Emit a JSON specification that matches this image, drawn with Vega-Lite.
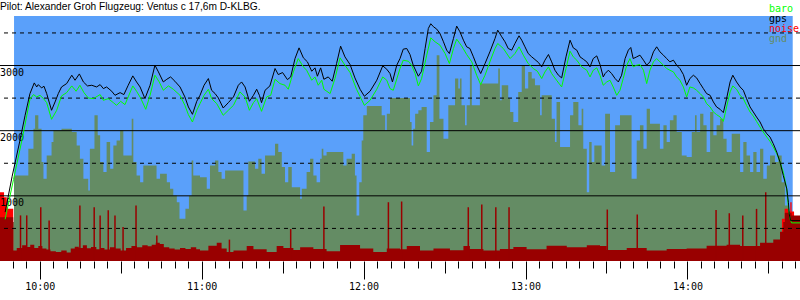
{
"$schema":"https://vega.github.io/schema/vega-lite/v6.json",
"width":800,"height":245,
"autosize":{"type":"none"},
"padding":{"left":0,"top":16,"right":0,"bottom":39},
"background":"white",
"config":{"view":{"stroke":null},"axis":{"domain":false,"title":null,"labelColor":"black","tickColor":"black","labelFont":"DejaVu Sans Mono","labelFontSize":10}},
"title":{"text":"Pilot: Alexander Groh Flugzeug: Ventus c 17,6m D-KLBG.","anchor":"start","frame":"group","font":"Liberation Sans","fontSize":10.2,"fontWeight":"normal","color":"black","offset":5,"dy":13},
"datasets":{
"gps":[{"t":587.2,"a":750},{"t":589.8,"a":1300},{"t":592.7,"a":1851},{"t":594.6,"a":2236},{"t":596.4,"a":2569},{"t":598.0,"a":2733},{"t":598.9,"a":2671},{"t":599.5,"a":2707},{"t":600.7,"a":2656},{"t":601.6,"a":2682},{"t":602.6,"a":2569},{"t":604.4,"a":2313},{"t":605.7,"a":2441},{"t":606.9,"a":2569},{"t":608.1,"a":2671},{"t":610.0,"a":2723},{"t":611.9,"a":2851},{"t":613.1,"a":2774},{"t":614.7,"a":2871},{"t":616.2,"a":2748},{"t":617.7,"a":2687},{"t":619.3,"a":2697},{"t":621.1,"a":2671},{"t":622.4,"a":2707},{"t":623.6,"a":2646},{"t":624.8,"a":2671},{"t":626.7,"a":2605},{"t":627.9,"a":2543},{"t":629.8,"a":2584},{"t":631.2,"a":2554},{"t":632.8,"a":2697},{"t":634.5,"a":2841},{"t":635.9,"a":2748},{"t":637.2,"a":2671},{"t":639.0,"a":2492},{"t":640.9,"a":2697},{"t":642.7,"a":3005},{"t":644.0,"a":2902},{"t":645.8,"a":2748},{"t":647.1,"a":2789},{"t":648.5,"a":2825},{"t":650.1,"a":2759},{"t":652.0,"a":2671},{"t":653.8,"a":2518},{"t":655.1,"a":2364},{"t":656.6,"a":2251},{"t":658.2,"a":2451},
{"t":659.4,"a":2543},{"t":660.9,"a":2697},{"t":662.5,"a":2800},{"t":663.7,"a":2620},{"t":665.0,"a":2569},{"t":666.2,"a":2502},{"t":668.0,"a":2348},{"t":669.9,"a":2430},{"t":671.8,"a":2518},{"t":673.6,"a":2697},{"t":674.8,"a":2748},{"t":676.1,"a":2671},{"t":677.7,"a":2451},{"t":679.2,"a":2543},{"t":680.4,"a":2636},{"t":681.4,"a":2543},{"t":682.2,"a":2430},{"t":683.5,"a":2620},{"t":685.3,"a":2687},{"t":687.2,"a":2954},{"t":688.4,"a":2861},{"t":690.0,"a":2892},{"t":691.8,"a":2784},{"t":693.0,"a":2825},{"t":694.6,"a":3107},{"t":696.1,"a":3271},{"t":697.7,"a":3118},{"t":699.2,"a":3056},{"t":700.8,"a":2912},{"t":702.0,"a":2964},{"t":702.9,"a":2836},{"t":704.1,"a":2964},{"t":705.3,"a":2789},{"t":706.9,"a":2825},{"t":708.4,"a":2759},{"t":710.0,"a":3030},{"t":711.5,"a":3297},{"t":713.1,"a":3133},{"t":715.0,"a":3015},{"t":716.8,"a":2810},{"t":718.7,"a":2636},{"t":720.3,"a":2528},{"t":722.4,"a":2605},{"t":724.9,"a":2774},{"t":727.1,"a":2995},{"t":728.6,"a":2943},{"t":729.8,"a":2877},{"t":730.7,"a":2748},{"t":732.3,"a":3005},
{"t":733.5,"a":3107},{"t":734.7,"a":3251},{"t":736.0,"a":3261},{"t":737.2,"a":3169},{"t":738.4,"a":3005},{"t":740.3,"a":2836},{"t":741.5,"a":2912},{"t":742.8,"a":3261},{"t":744.0,"a":3569},{"t":744.9,"a":3641},{"t":745.9,"a":3595},{"t":747.1,"a":3559},{"t":748.3,"a":3492},{"t":749.6,"a":3364},{"t":750.8,"a":3236},{"t":751.8,"a":3184},{"t":753.3,"a":3415},{"t":754.5,"a":3605},{"t":755.7,"a":3518},{"t":757.0,"a":3389},{"t":758.2,"a":3287},{"t":759.4,"a":3261},{"t":760.7,"a":3133},{"t":761.9,"a":3005},{"t":763.4,"a":2877},{"t":765.0,"a":3030},{"t":766.8,"a":3210},{"t":768.7,"a":3415},{"t":769.7,"a":3543},{"t":771.2,"a":3441},{"t":772.4,"a":3364},{"t":773.6,"a":3261},{"t":774.9,"a":3236},{"t":776.1,"a":3338},{"t":777.6,"a":3456},{"t":778.6,"a":3389},{"t":779.8,"a":3287},{"t":781.0,"a":3184},{"t":782.3,"a":3133},{"t":783.5,"a":3092},{"t":784.8,"a":3046},{"t":786.0,"a":2979},{"t":787.2,"a":3082},{"t":788.5,"a":3169},{"t":789.7,"a":3056},{"t":790.9,"a":2928},{"t":792.2,"a":2851},{"t":793.4,"a":2810},{"t":795.0,"a":3133},{"t":796.5,"a":3389},{"t":797.7,"a":3271},{"t":799.0,"a":3236},{"t":800.2,"a":3133},{"t":801.4,"a":3097},{"t":802.7,"a":3056},{"t":803.9,"a":2979},{"t":805.1,"a":3107},{"t":806.4,"a":3148},{"t":807.6,"a":3015},
{"t":808.8,"a":2825},{"t":809.5,"a":2877},{"t":810.7,"a":2928},{"t":811.9,"a":2877},{"t":813.2,"a":2800},{"t":814.4,"a":2748},{"t":815.6,"a":2851},{"t":816.9,"a":3107},{"t":818.1,"a":3236},{"t":819.0,"a":3277},{"t":819.9,"a":3107},{"t":821.2,"a":3133},{"t":822.4,"a":3159},{"t":823.7,"a":3082},{"t":824.9,"a":3005},{"t":826.1,"a":3056},{"t":827.4,"a":3210},{"t":828.6,"a":3287},{"t":829.8,"a":3210},{"t":831.1,"a":3159},{"t":832.3,"a":3107},{"t":833.5,"a":3056},{"t":834.8,"a":3082},{"t":836.0,"a":3005},{"t":837.2,"a":2954},{"t":838.5,"a":2861},{"t":839.7,"a":2697},{"t":840.9,"a":2800},{"t":842.2,"a":2851},{"t":843.4,"a":2810},{"t":844.7,"a":2723},{"t":845.9,"a":2646},{"t":847.1,"a":2569},{"t":848.4,"a":2543},{"t":849.6,"a":2441},{"t":850.8,"a":2364},{"t":852.1,"a":2328},{"t":853.3,"a":2277},{"t":854.5,"a":2492},{"t":855.8,"a":2748},{"t":856.8,"a":2851},{"t":858.2,"a":2748},{"t":859.5,"a":2671},{"t":860.7,"a":2620},{"t":861.9,"a":2492},{"t":863.2,"a":2364},{"t":864.4,"a":2287},{"t":865.6,"a":2210},{"t":866.9,"a":2133},{"t":868.1,"a":2030},{"t":869.4,"a":1954},{"t":870.6,"a":1902},{"t":871.8,"a":1800},{"t":873.1,"a":1671},{"t":874.3,"a":1518},{"t":875.5,"a":1313},{"t":876.8,"a":1107},{"t":877.4,"a":902},{"t":877.7,"a":723},{"t":878.2,"a":620},{"t":881.7,"a":620}],
"baro":[{"t":587.2,"a":640},{"t":590.3,"a":1250},{"t":593.4,"a":1851},{"t":594.6,"a":2100},{"t":596.4,"a":2482},{"t":597.7,"a":2554},{"t":598.9,"a":2518},{"t":600.1,"a":2543},{"t":601.4,"a":2492},{"t":602.6,"a":2430},{"t":604.4,"a":2174},{"t":606.3,"a":2313},{"t":608.1,"a":2533},{"t":610.0,"a":2584},{"t":611.9,"a":2687},{"t":613.5,"a":2605},{"t":614.9,"a":2697},{"t":616.4,"a":2584},{"t":618.0,"a":2502},{"t":619.9,"a":2492},{"t":622.4,"a":2554},{"t":623.6,"a":2466},{"t":625.4,"a":2492},{"t":627.3,"a":2430},{"t":628.5,"a":2389},{"t":630.0,"a":2451},{"t":631.6,"a":2400},{"t":632.8,"a":2518},{"t":634.5,"a":2687},{"t":635.9,"a":2605},{"t":637.4,"a":2502},{"t":639.3,"a":2328},{"t":640.9,"a":2543},{"t":642.7,"a":2851},{"t":644.3,"a":2748},{"t":645.8,"a":2620},{"t":647.7,"a":2687},{"t":649.5,"a":2636},{"t":652.0,"a":2543},{"t":653.8,"a":2389},{"t":655.1,"a":2246},{"t":656.6,"a":2133},{"t":658.2,"a":2313},
{"t":659.4,"a":2415},{"t":660.9,"a":2543},{"t":662.5,"a":2636},{"t":663.7,"a":2492},{"t":665.6,"a":2415},{"t":668.0,"a":2236},{"t":669.9,"a":2313},{"t":671.8,"a":2389},{"t":674.2,"a":2595},{"t":676.1,"a":2518},{"t":677.7,"a":2313},{"t":679.2,"a":2430},{"t":680.4,"a":2492},{"t":682.2,"a":2297},{"t":684.1,"a":2518},{"t":685.6,"a":2543},{"t":687.2,"a":2789},{"t":689.0,"a":2723},{"t":690.9,"a":2697},{"t":692.1,"a":2636},{"t":694.0,"a":2902},{"t":695.8,"a":3107},{"t":697.7,"a":2979},{"t":698.9,"a":2928},{"t":700.8,"a":2774},{"t":702.0,"a":2825},{"t":703.2,"a":2697},{"t":704.5,"a":2774},{"t":705.3,"a":2636},{"t":707.6,"a":2569},{"t":709.4,"a":2800},{"t":711.3,"a":3118},{"t":713.1,"a":3005},{"t":715.0,"a":2892},{"t":717.4,"a":2636},{"t":720.3,"a":2389},{"t":722.4,"a":2466},{"t":724.9,"a":2636},{"t":727.1,"a":2825},{"t":728.6,"a":2774},{"t":729.8,"a":2646},{"t":731.0,"a":2620},{"t":733.5,"a":2954},
{"t":734.7,"a":3082},{"t":736.6,"a":3066},{"t":737.8,"a":3005},{"t":739.1,"a":2877},{"t":740.3,"a":2687},{"t":741.5,"a":2800},{"t":743.4,"a":3159},{"t":744.9,"a":3425},{"t":746.5,"a":3364},{"t":748.3,"a":3313},{"t":750.2,"a":3184},{"t":751.8,"a":3030},{"t":753.3,"a":3261},{"t":754.5,"a":3405},{"t":756.3,"a":3302},{"t":758.2,"a":3169},{"t":760.1,"a":3056},{"t":761.9,"a":2851},{"t":763.4,"a":2707},{"t":765.0,"a":2851},{"t":766.8,"a":3056},{"t":768.7,"a":3261},{"t":769.7,"a":3338},{"t":771.8,"a":3261},{"t":774.3,"a":3107},{"t":776.1,"a":3184},{"t":777.6,"a":3287},{"t":779.2,"a":3159},{"t":781.0,"a":3030},{"t":782.9,"a":2954},{"t":784.4,"a":2912},{"t":786.0,"a":2800},{"t":787.2,"a":2902},{"t":788.5,"a":2979},{"t":789.7,"a":2877},{"t":791.5,"a":2774},{"t":793.4,"a":2671},{"t":795.0,"a":2954},{"t":796.5,"a":3220},{"t":797.7,"a":3133},{"t":799.0,"a":3082},{"t":800.8,"a":2979},{"t":802.7,"a":2928},{"t":803.9,"a":2825},{"t":805.1,"a":2928},{"t":806.4,"a":2964},{"t":807.6,"a":2851},
{"t":808.8,"a":2697},{"t":810.1,"a":2748},{"t":811.3,"a":2774},{"t":812.5,"a":2671},{"t":813.8,"a":2543},{"t":815.0,"a":2620},{"t":816.2,"a":2800},{"t":817.5,"a":3005},{"t":818.7,"a":3107},{"t":819.9,"a":2979},{"t":821.2,"a":3005},{"t":822.4,"a":3015},{"t":823.7,"a":2928},{"t":824.9,"a":2723},{"t":826.1,"a":2928},{"t":827.4,"a":3056},{"t":828.6,"a":3107},{"t":829.8,"a":3056},{"t":831.1,"a":3005},{"t":832.3,"a":2954},{"t":833.5,"a":2928},{"t":834.8,"a":2902},{"t":836.0,"a":2825},{"t":837.2,"a":2774},{"t":838.5,"a":2671},{"t":839.7,"a":2518},{"t":840.9,"a":2671},{"t":842.2,"a":2656},{"t":843.4,"a":2620},{"t":844.7,"a":2569},{"t":845.9,"a":2518},{"t":847.1,"a":2415},{"t":848.4,"a":2364},{"t":849.6,"a":2287},{"t":850.8,"a":2246},{"t":852.1,"a":2210},{"t":853.3,"a":2143},{"t":854.5,"a":2364},{"t":855.8,"a":2595},{"t":856.8,"a":2687},{"t":858.2,"a":2636},{"t":859.5,"a":2543},{"t":860.7,"a":2492},{"t":861.9,"a":2389},{"t":863.2,"a":2287},{"t":864.4,"a":2225},{"t":865.6,"a":2143},{"t":866.9,"a":2056},{"t":868.1,"a":1979},{"t":869.4,"a":1902},{"t":870.6,"a":1836},{"t":871.8,"a":1749},{"t":873.1,"a":1646},{"t":874.3,"a":1518},{"t":875.5,"a":1364},{"t":876.8,"a":1107},{"t":877.4,"a":825},{"t":878.0,"a":646},{"t":878.6,"a":585},{"t":881.7,"a":585}],
"gnd":[{"t":585.3,"a":600},{"t":590.5,"a":1313},{"t":595.8,"a":1723},{"t":597.7,"a":2030},{"t":598.3,"a":2236},{"t":599.5,"a":2030},{"t":600.7,"a":1518},{"t":601.4,"a":1261},{"t":602.6,"a":1620},{"t":604.4,"a":1825},{"t":605.1,"a":2005},{"t":608.1,"a":2030},{"t":611.9,"a":1979},{"t":613.7,"a":1774},{"t":614.9,"a":1569},{"t":616.2,"a":1261},{"t":618.0,"a":1082},{"t":618.6,"a":1723},{"t":620.3,"a":2236},{"t":621.5,"a":1928},{"t":622.4,"a":1518},{"t":623.6,"a":1364},{"t":624.8,"a":1825},{"t":626.1,"a":1415},{"t":627.3,"a":1774},{"t":628.5,"a":1851},{"t":629.8,"a":2005},{"t":631.0,"a":1620},{"t":634.1,"a":2184},{"t":634.7,"a":1518},{"t":635.9,"a":1313},{"t":637.2,"a":1210},{"t":638.4,"a":1466},{"t":643.3,"a":1261},{"t":644.6,"a":1338},{"t":647.1,"a":1210},{"t":648.3,"a":1107},{"t":649.5,"a":1005},{"t":650.8,"a":900},{"t":651.8,"a":650},{"t":654.0,"a":800},{"t":655.3,"a":1000},{"t":656.3,"a":1543},{"t":656.9,"a":1313},
{"t":659.4,"a":1287},{"t":661.9,"a":1107},{"t":663.1,"a":1466},{"t":665.0,"a":1543},{"t":666.2,"a":1364},{"t":667.4,"a":1261},{"t":668.7,"a":1389},{"t":675.5,"a":774},{"t":676.7,"a":1005},{"t":677.3,"a":1528},{"t":679.8,"a":1415},{"t":681.0,"a":1569},{"t":682.2,"a":1338},{"t":683.5,"a":1620},{"t":687.2,"a":1800},{"t":688.4,"a":1671},{"t":689.7,"a":1441},{"t":690.9,"a":1210},{"t":692.1,"a":1441},{"t":693.4,"a":1133},{"t":696.5,"a":954},{"t":697.1,"a":1107},{"t":698.9,"a":1364},{"t":700.2,"a":1569},{"t":701.4,"a":1313},{"t":702.6,"a":1210},{"t":703.9,"a":1569},{"t":704.5,"a":1723},{"t":705.1,"a":1620},{"t":706.3,"a":1671},{"t":712.5,"a":1466},{"t":713.7,"a":1569},{"t":715.6,"a":1646},{"t":716.8,"a":1313},{"t":717.4,"a":697},{"t":718.4,"a":1210},{"t":719.3,"a":1851},{"t":719.9,"a":2236},{"t":721.2,"a":2379},{"t":726.7,"a":2236},{"t":728.0,"a":2005},{"t":728.6,"a":2261},{"t":729.8,"a":2502},
{"t":737.2,"a":2133},{"t":737.8,"a":1774},{"t":738.4,"a":2030},{"t":739.1,"a":2261},{"t":740.3,"a":2313},{"t":741.5,"a":2364},{"t":743.4,"a":1671},{"t":744.6,"a":2133},{"t":745.9,"a":2543},{"t":747.1,"a":3159},{"t":748.1,"a":2184},{"t":749.6,"a":1877},{"t":751.4,"a":2389},{"t":753.9,"a":2800},{"t":755.1,"a":2646},{"t":755.7,"a":2800},{"t":756.3,"a":2389},{"t":757.6,"a":2082},{"t":758.2,"a":2389},{"t":759.4,"a":3005},{"t":760.1,"a":2389},{"t":763.1,"a":2723},{"t":769.9,"a":2954},{"t":770.5,"a":2466},{"t":771.2,"a":2697},{"t":773.6,"a":2492},{"t":774.3,"a":2287},{"t":775.5,"a":2133},{"t":777.3,"a":2595},{"t":778.6,"a":3005},{"t":779.8,"a":2646},{"t":781.0,"a":2902},{"t":782.3,"a":2800},{"t":783.5,"a":2697},{"t":785.4,"a":2236},{"t":786.0,"a":2543},{"t":789.7,"a":2184},{"t":790.9,"a":1825},{"t":791.5,"a":2441},{"t":792.8,"a":1749},{"t":796.5,"a":2236},{"t":797.7,"a":2441},{"t":799.6,"a":2082},{"t":800.8,"a":2338},{"t":801.4,"a":1723},{"t":802.7,"a":1056},{"t":803.6,"a":1825},{"t":804.5,"a":1518},{"t":805.5,"a":1774},
{"t":808.2,"a":1466},{"t":809.5,"a":2261},{"t":811.3,"a":1364},{"t":813.2,"a":2082},{"t":815.0,"a":2236},{"t":819.3,"a":1261},{"t":821.2,"a":1851},{"t":822.4,"a":2082},{"t":823.7,"a":1723},{"t":824.9,"a":2338},{"t":826.1,"a":2107},{"t":829.8,"a":1723},{"t":831.1,"a":2082},{"t":832.3,"a":1825},{"t":833.5,"a":2159},{"t":834.8,"a":2236},{"t":836.0,"a":1979},{"t":837.9,"a":1620},{"t":839.7,"a":1595},{"t":841.6,"a":1979},{"t":842.8,"a":2236},{"t":843.4,"a":1979},{"t":844.7,"a":2261},{"t":845.9,"a":2082},{"t":847.1,"a":1671},{"t":848.4,"a":2287},{"t":849.6,"a":1928},{"t":850.8,"a":2082},{"t":852.1,"a":2184},{"t":853.3,"a":1877},{"t":854.5,"a":1671},{"t":856.4,"a":1954},{"t":859.5,"a":1364},{"t":860.7,"a":1825},{"t":861.9,"a":1620},{"t":863.2,"a":1364},{"t":864.4,"a":1671},{"t":865.6,"a":1364},{"t":866.9,"a":1723},{"t":868.1,"a":1261},{"t":869.4,"a":1466},{"t":870.6,"a":1620},{"t":872.4,"a":1518},{"t":873.7,"a":1620},{"t":874.9,"a":1210},{"t":876.1,"a":850},{"t":877.4,"a":700},{"t":879.2,"a":656},{"t":881.7,"a":656}],
"noise":[{"t":585.3,"a":670},{"t":590.2,"a":160},{"t":591.5,"a":200},{"t":593.5,"a":240},{"t":595.0,"a":215},{"t":596.5,"a":250},{"t":598.0,"a":200},{"t":599.5,"a":230},{"t":601.0,"a":190},{"t":602.5,"a":175},{"t":604.0,"a":150},{"t":606.0,"a":140},{"t":608.0,"a":160},{"t":610.0,"a":130},{"t":611.5,"a":190},{"t":613.0,"a":220},{"t":614.5,"a":200},{"t":616.0,"a":240},{"t":617.5,"a":195},{"t":619.0,"a":215},{"t":621.0,"a":180},{"t":622.5,"a":200},{"t":624.0,"a":175},{"t":626.0,"a":210},{"t":628.0,"a":190},{"t":630.0,"a":160},{"t":632.0,"a":200},{"t":634.0,"a":230},{"t":636.0,"a":210},{"t":638.0,"a":240},{"t":640.0,"a":225},{"t":641.5,"a":250},{"t":643.0,"a":280},{"t":644.5,"a":260},{"t":646.0,"a":210},{"t":648.0,"a":190},{"t":650.0,"a":175},{"t":652.0,"a":200},{"t":654.0,"a":185},{"t":656.0,"a":210},{"t":658.0,"a":180},{"t":659.4,"a":160},{"t":662.5,"a":235},{"t":665.6,"a":280},{"t":667.4,"a":190},{"t":669.3,"a":140},{"t":671.8,"a":160},{"t":676.7,"a":230},{"t":679.2,"a":180},{"t":684.1,"a":140},{"t":687.8,"a":230},{"t":690.3,"a":200},{"t":694.0,"a":170},{"t":696.5,"a":210},{"t":701.4,"a":185},{"t":706.3,"a":150},{"t":711.3,"a":245},{"t":718.7,"a":190},{"t":723.6,"a":140},{"t":728.6,"a":190},{"t":733.5,"a":180},{"t":736.0,"a":230},{"t":740.9,"a":160},{"t":745.9,"a":190},{"t":752.0,"a":165},{"t":757.0,"a":230},{"t":759.4,"a":185},{"t":764.4,"a":160},{"t":770.5,"a":185},{"t":775.5,"a":215},{"t":780.4,"a":180},{"t":787.8,"a":235},{"t":795.3,"a":210},{"t":802.7,"a":240},{"t":807.6,"a":230},{"t":810.1,"a":170},{"t":817.5,"a":200},{"t":824.9,"a":160},{"t":832.3,"a":185},{"t":839.7,"a":190},{"t":847.1,"a":235},{"t":854.5,"a":250},{"t":859.5,"a":230},{"t":866.9,"a":280},{"t":871.8,"a":330},{"t":874.3,"a":450},{"t":875.5,"a":600},{"t":876.1,"a":740},{"t":878.6,"a":700},{"t":881.7,"a":700}],
"loud":[{"t":585.3,"a":1055},{"t":586.8,"a":980},{"t":587.8,"a":800},{"t":590.2,"a":0},{"t":875.0,"a":650},{"t":876.0,"a":800},{"t":877.3,"a":760},{"t":878.1,"a":900},{"t":878.6,"a":760},{"t":879.5,"a":0},{"t":881.7,"a":0}],
"spikes":[{"t":592.9,"a":700},{"t":595.2,"a":700},{"t":600.4,"a":825},{"t":603.5,"a":620},{"t":614.9,"a":850},{"t":620.2,"a":825},{"t":622.4,"a":700},{"t":625.4,"a":780},{"t":627.9,"a":700},{"t":630.9,"a":520},{"t":635.7,"a":850},{"t":643.4,"a":390},{"t":670.3,"a":328},{"t":693.0,"a":490},{"t":705.3,"a":836},{"t":729.2,"a":902},{"t":734.1,"a":913},{"t":758.8,"a":825},{"t":763.8,"a":866},{"t":769.0,"a":825},{"t":773.9,"a":825},{"t":810.3,"a":790},{"t":821.4,"a":713},{"t":850.6,"a":784},{"t":855.5,"a":733},{"t":860.5,"a":697},{"t":865.6,"a":800},{"t":869.0,"a":1055}],
"events":[{"t":585.3,"t2":590.1},{"t":875.8,"t2":879.5}],
"sky":[{"t":590.5,"a":3760},{"t":879.0,"a":3760}],
"solid":[{"a":1000,"l":"1000"},{"a":2000,"l":"2000"},{"a":3000,"l":"3000"}],
"dashed":[{"a":500},{"a":1500},{"a":2500},{"a":3500}]
},
"layer":[
{"encoding":{
 "x":{"field":"t","type":"quantitative","scale":{"domain":[585.3,881.7],"nice":false,"zero":false},
  "axis":{"orient":"bottom","tickCount":59,"grid":false,"labelOverlap":false,"labelFlush":false,"labelBound":false,"tickSize":{"condition":[{"test":"datum.value % 60 === 0","value":18},{"test":"datum.value % 30 === 0","value":12}],"value":7},"labelPadding":2,"labelExpr":"datum.value % 60 === 0 ? floor(datum.value/60) + ':00' : ''"}},
 "y":{"field":"a","type":"quantitative","scale":{"domain":[0,3760],"nice":false,"zero":true},"axis":null}},
 "layer":[
  {"data":{"name":"sky"},"mark":{"type":"area","interpolate":"step-after","color":"#5aa0fa","clip":true}},
  {"data":{"name":"gnd"},"mark":{"type":"area","interpolate":"step-after","color":"#648c64","clip":true}},
  {"data":{"name":"loud"},"mark":{"type":"area","interpolate":"step-after","color":"#ff0000","clip":true}},
  {"data":{"name":"noise"},"mark":{"type":"area","interpolate":"step-after","color":"#990000","clip":true}},
  {"data":{"name":"spikes"},"mark":{"type":"rule","color":"#990000","strokeWidth":1.5,"clip":true},"encoding":{"y2":{"datum":0}}}
 ]},
{"data":{"name":"solid"},"mark":{"type":"rule","color":"black","strokeWidth":1},
 "encoding":{"y":{"field":"a","type":"quantitative","axis":null}}},
{"data":{"name":"dashed"},"mark":{"type":"rule","color":"black","strokeWidth":1,"strokeDash":[4,4]},
 "encoding":{"y":{"field":"a","type":"quantitative","axis":null}}},
{"data":{"name":"solid"},"mark":{"type":"text","align":"left","baseline":"top","dy":2,"font":"DejaVu Sans Mono","fontSize":10,"color":"black"},
 "encoding":{"x":{"datum":585.3,"type":"quantitative",
  "axis":{"orient":"bottom","tickCount":59,"grid":false,"labelOverlap":false,"labelFlush":false,"labelBound":false,"tickSize":{"condition":[{"test":"datum.value % 60 === 0","value":18},{"test":"datum.value % 30 === 0","value":12}],"value":7},"labelPadding":2,"labelExpr":"datum.value % 60 === 0 ? floor(datum.value/60) + ':00' : ''"}},
  "y":{"field":"a","type":"quantitative","axis":null},"text":{"field":"l"}}},
{"encoding":{
 "x":{"field":"t","type":"quantitative",
  "axis":{"orient":"bottom","tickCount":59,"grid":false,"labelOverlap":false,"labelFlush":false,"labelBound":false,"tickSize":{"condition":[{"test":"datum.value % 60 === 0","value":18},{"test":"datum.value % 30 === 0","value":12}],"value":7},"labelPadding":2,"labelExpr":"datum.value % 60 === 0 ? floor(datum.value/60) + ':00' : ''"}},
 "y":{"field":"a","type":"quantitative","axis":null}},
 "layer":[
  {"data":{"name":"events"},"mark":{"type":"rect","color":"black","clip":false},
   "encoding":{"x2":{"field":"t2"},"y":{"datum":-150,"type":"quantitative","axis":null},"y2":{"datum":-255}}},
  {"data":{"name":"baro"},"mark":{"type":"line","strokeWidth":1,"clip":true},
   "encoding":{"color":{"datum":"baro","type":"nominal","scale":{"domain":["baro","gps","noise","gnd"],"range":["#00ff00","#000000","#ff0000","#648c64"]},
     "legend":{"orient":"none","legendX":759,"legendY":-12,"title":null,"symbolSize":0,"symbolStrokeWidth":0,"symbolOpacity":0,"labelOffset":0,"rowPadding":0,"padding":0,"labelFont":"DejaVu Sans Mono","labelFontSize":10,"encode":{"labels":{"update":{"fill":{"scale":"color","field":"value"}}}}}}}},
  {"data":{"name":"gps"},"mark":{"type":"line","strokeWidth":1,"clip":true},
   "encoding":{"color":{"datum":"gps","type":"nominal"}}}
 ]}
]
}
